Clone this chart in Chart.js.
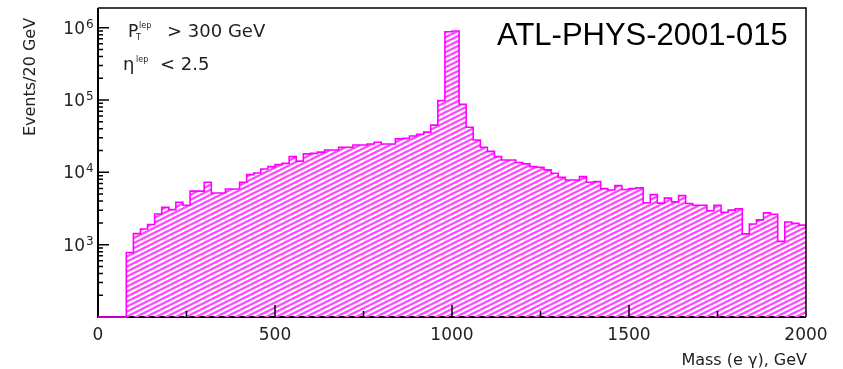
<!DOCTYPE html>
<html>
<head>
<meta charset="utf-8">
<script src="https://cdn.jsdelivr.net/npm/chart.js@4.4.1/dist/chart.umd.min.js"></script>
<style>
  html, body { margin: 0; padding: 0; background: #fff; }
  #wrap { width: 843px; height: 369px; position: relative; }
</style>
</head>
<body>
<div id="wrap"><canvas id="massChart"></canvas></div>
<script>
/* ===== DATA ===== */

// Mass(e gamma) histogram, 20 GeV bins from 0 to 2000 GeV
const binWidth = 20;
const massMin = 0;
const massMax = 2000;
const counts = [
  0, 0, 0, 0, 780, 1420, 1650, 1900, 2660, 3280,
  3050, 3850, 3500, 5500, 5500, 7280, 5190, 5190, 5890, 5890,
  7280, 9290, 9800, 11100, 12000, 12800, 13300, 16500, 14300, 18000,
  18300, 19000, 20400, 20400, 22200, 22200, 23900, 23900, 24700, 26000,
  24700, 24700, 29000, 29500, 31800, 33600, 36000, 45000, 98000, 880000,
  900000, 87000, 41900, 28000, 22200, 19500, 16500, 14800, 14800, 13700,
  13100, 12000, 11700, 10800, 9690, 8530, 7850, 7850, 8730, 7280,
  7430, 5950, 5700, 6540, 5800, 5950, 6100, 3800, 4920, 3750,
  4400, 3900, 4760, 3700, 3500, 3500, 2950, 3500, 2800, 3000,
  3120, 1410, 1930, 2200, 2750, 2630, 1110, 2060, 1970, 1860
];

// axis ticks
const yMin = 100;
const yMax = 1.87e6;
const xLabels = [0, 500, 1000, 1500, 2000];
const xMajor = [500, 1000, 1500];
const xMinor = [250, 750, 1250, 1750];
const yExponents = [3, 4, 5, 6];

/* ===== HELPERS ===== */

// step points: left edge of every bin, closed at the upper mass edge
const points = counts.map((c, i) => ({x: massMin + i * binWidth, y: Math.max(c, yMin)}));
points.push({x: massMax, y: Math.max(counts[counts.length - 1], yMin)});

function hatch() {
  const c = document.createElement('canvas');
  c.width = 10; c.height = 5;
  const g = c.getContext('2d');
  g.strokeStyle = '#ff45ff';
  g.lineWidth = 2.3;
  for (const dx of [-10, 0, 10]) {
    for (const dy of [-5, 0, 5]) {
      g.beginPath();
      g.moveTo(dx, 5 + dy);
      g.lineTo(dx + 10, dy);
      g.stroke();
    }
  }
  return g.createPattern(c, 'repeat');
}

const TXT = '#222';
const SANS = '"DejaVu Sans", sans-serif';

function text(ctx, s, x, y, size, align, color, font) {
  ctx.font = size + 'px ' + (font || SANS);
  ctx.textAlign = align || 'left';
  ctx.textBaseline = 'alphabetic';
  ctx.fillStyle = color || TXT;
  ctx.fillText(s, x, y);
}

/* ===== FRAME, TICKS, LABELS ===== */

const frame = {
  id: 'frame',
  beforeDatasetsDraw(chart) {
    const {ctx, chartArea: a} = chart;
    ctx.save();
    ctx.strokeStyle = '#000';
    ctx.lineWidth = 2;
    ctx.beginPath();
    ctx.moveTo(a.left, a.top);
    ctx.lineTo(a.left, a.bottom);
    ctx.lineTo(a.right, a.bottom);
    ctx.stroke();
    ctx.restore();
  },
  afterDraw(chart) {
    const {ctx, chartArea: a} = chart;
    const x = chart.scales.x, y = chart.scales.y;
    ctx.save();

    // box
    ctx.strokeStyle = '#000';
    ctx.lineWidth = 1.5;
    ctx.beginPath();
    ctx.moveTo(a.left, a.top);
    ctx.lineTo(a.right, a.top);
    ctx.lineTo(a.right, a.bottom);
    ctx.stroke();

    // x ticks, pointing inward
    ctx.beginPath();
    xMajor.forEach(v => { const p = x.getPixelForValue(v); ctx.moveTo(p, a.bottom); ctx.lineTo(p, a.bottom - 12); });
    xMinor.forEach(v => { const p = x.getPixelForValue(v); ctx.moveTo(p, a.bottom); ctx.lineTo(p, a.bottom - 6); });
    ctx.stroke();

    // y ticks, decades and 2..9 in between
    ctx.beginPath();
    for (let e = 2; e <= 6; e++) {
      const base = Math.pow(10, e);
      const p = y.getPixelForValue(base);
      if (e > 2) { ctx.moveTo(a.left, p); ctx.lineTo(a.left + 11, p); }
      for (let m = 2; m <= 9; m++) {
        if (m * base > yMax) break;
        const q = y.getPixelForValue(m * base);
        ctx.moveTo(a.left, q); ctx.lineTo(a.left + 5, q);
      }
    }
    ctx.stroke();

    // tick labels
    xLabels.forEach(v => text(ctx, String(v), x.getPixelForValue(v), a.bottom + 23, 17, 'center'));
    yExponents.forEach(e => {
      const p = y.getPixelForValue(Math.pow(10, e));
      text(ctx, '10', 85, p + 6, 17, 'right');
      text(ctx, String(e), 86, p, 12, 'left');
    });

    // axis titles
    text(ctx, 'Mass (e \u03b3), GeV', a.right + 1, 365, 16, 'right');
    ctx.save();
    ctx.translate(35, 77);
    ctx.rotate(-Math.PI / 2);
    text(ctx, 'Events/20 GeV', 0, 0, 16, 'center');
    ctx.restore();

    // cut labels
    text(ctx, 'P', 128, 37, 17);
    text(ctx, 'T', 136, 40, 8);
    text(ctx, 'lep', 139, 28, 8);
    text(ctx, '> 300 GeV', 167, 37, 18);
    text(ctx, '\u03b7', 123, 70, 18);
    text(ctx, 'lep', 136, 62, 8);
    text(ctx, '< 2.5', 160, 70, 18);

    // note reference
    text(ctx, 'ATL-PHYS-2001-015', 497, 45, 31, 'left', '#000', '"Liberation Sans", Arial, sans-serif');

    ctx.restore();
  }
};

/* ===== CHART ===== */

new Chart(document.getElementById('massChart'), {
  type: 'line',
  data: {
    datasets: [{
      data: points,
      stepped: 'before',
      borderColor: '#ff00ff',
      borderWidth: 1.6,
      backgroundColor: hatch(),
      fill: 'start',
      pointRadius: 0,
      clip: 3
    }]
  },
  options: {
    responsive: true,
    maintainAspectRatio: false,
    animation: false,
    events: [],
    layout: {padding: {left: 98, right: 37, top: 8, bottom: 52}},
    plugins: {legend: {display: false}, tooltip: {enabled: false}},
    scales: {
      x: {type: 'linear', min: massMin, max: massMax, display: false},
      y: {type: 'logarithmic', min: yMin, max: yMax, display: false}
    }
  },
  plugins: [frame]
});
</script>
</body>
</html>
